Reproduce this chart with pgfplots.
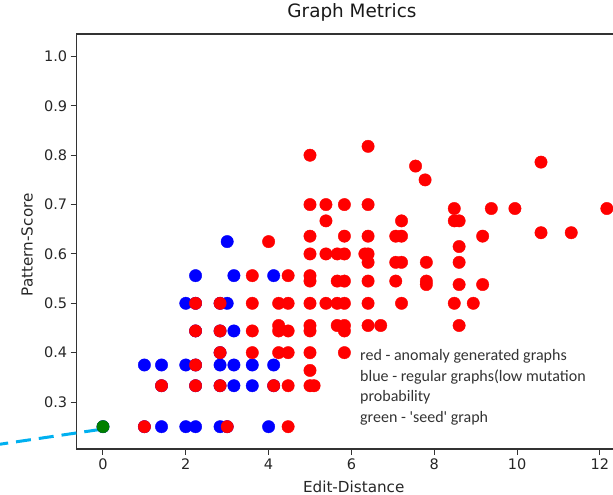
\documentclass[border=0pt]{standalone}
\usepackage{fontspec}
\setmainfont{DejaVu Sans}
\newfontfamily\notefont{Carlito}[Ligatures=TeXOff]
\usepackage{pgfplots}
\pgfplotsset{compat=1.18}

\definecolor{mplgreen}{RGB}{0,128,0}
\definecolor{callout}{RGB}{0,176,240}

\begin{document}
\begin{tikzpicture}
\useasboundingbox (-76.7pt,-46pt) rectangle (536.3pt,449pt);
\begin{axis}[
    scale only axis,
    width=538.3pt, height=415pt,
    xmin=-0.635, xmax=12.367,
    ymin=0.2048, ymax=1.0456,
    xtick={0,2,4,6,8,10,12},
    ytick={0.3,0.4,0.5,0.6,0.7,0.8,0.9,1.0},
    yticklabel style={/pgf/number format/.cd, fixed, fixed zerofill, precision=1},
    /pgf/number format/assume math mode=true,
    tick pos=left,
    tick align=outside,
    major tick length=6pt,
    tick style={black!80, line width=1pt},
    axis line style={black!80, line width=1.2pt},
    tick label style={font=\fontsize{14.5}{17}\selectfont, text=black!85},
    label style={font=\fontsize{15.2}{18}\selectfont, text=black!85},
    title={Graph Metrics},
    title style={at={(axis description cs:0.5114,1.0386)}, anchor=center,
        font=\fontsize{18.4}{22}\selectfont, text=black!90},
    xlabel={Edit-Distance},
    xlabel style={at={(axis description cs:0.5146,-0.0916)}, anchor=center},
    ylabel={Pattern-Score},
    ylabel style={at={(axis description cs:-0.0923,0.492)}, anchor=center},
    clip=false,
]

% callout line drawn over the screenshot
\draw[callout, line width=3pt, dash pattern=on 15pt off 8pt]
    (axis cs:-2.65,0.2125) -- (axis cs:-0.1,0.244);

% regular graphs (blue), also the ones hidden under red
\addplot[only marks, mark=*, mark size=6.2pt, color=blue] coordinates {
    (3.0,0.625)
    (2.236,0.556) (3.162,0.556) (4.123,0.556)
    (2.0,0.5) (3.0,0.5) (2.236,0.5) (2.828,0.5)
    (3.162,0.444) (2.236,0.444) (2.828,0.444)
    (2.828,0.4)
    (1.0,0.375) (1.414,0.375) (2.0,0.375) (2.236,0.375) (2.828,0.375)
    (3.162,0.375) (3.606,0.375) (4.123,0.375)
    (1.414,0.333) (2.236,0.333) (2.828,0.333) (3.162,0.333) (3.606,0.333) (4.123,0.333)
    (0,0.25) (1.0,0.25) (1.414,0.25) (2.0,0.25) (2.236,0.25) (2.828,0.25) (3.0,0.25) (4.0,0.25)
};

% anomaly generated graphs (red)
\addplot[only marks, mark=*, mark size=6.2pt, color=red] coordinates {
    (6.403,0.818) (5.0,0.8) (10.58,0.786) (7.55,0.778) (7.78,0.75)
    (5.0,0.7) (5.385,0.7) (5.831,0.7) (6.403,0.7)
    (8.485,0.692) (9.38,0.692) (9.95,0.692) (12.17,0.692)
    (5.385,0.667) (7.211,0.667) (8.485,0.667) (8.602,0.667)
    (10.58,0.643) (11.31,0.643)
    (5.0,0.636) (5.831,0.636) (6.403,0.636) (7.071,0.636) (7.211,0.636) (9.17,0.636)
    (4.0,0.625) (8.602,0.615)
    (5.0,0.6) (5.385,0.6) (5.657,0.6) (5.831,0.6) (6.325,0.6) (6.403,0.6)
    (6.403,0.583) (7.071,0.583) (7.211,0.583) (7.81,0.583) (8.602,0.583)
    (3.606,0.556) (4.472,0.556) (5.0,0.556)
    (5.0,0.545) (5.657,0.545) (5.831,0.545) (6.403,0.545) (7.071,0.545) (7.81,0.545)
    (7.81,0.538) (8.602,0.538) (9.17,0.538)
    (2.236,0.5) (2.828,0.5) (3.606,0.5) (4.243,0.5) (4.472,0.5) (5.0,0.5) (5.385,0.5)
    (5.657,0.5) (5.831,0.5) (6.403,0.5) (7.211,0.5) (8.485,0.5) (8.944,0.5)
    (4.243,0.455) (5.0,0.455) (5.657,0.455) (5.831,0.455) (6.403,0.455) (6.708,0.455) (8.602,0.455)
    (2.236,0.444) (2.828,0.444) (3.606,0.444) (4.243,0.444) (4.472,0.444) (5.0,0.444) (5.831,0.444)
    (2.828,0.4) (3.606,0.4) (4.243,0.4) (4.472,0.4) (5.0,0.4) (5.831,0.4)
    (2.236,0.375) (5.0,0.364)
    (1.414,0.333) (2.236,0.333) (2.828,0.333) (4.123,0.333) (4.472,0.333) (5.0,0.333) (5.099,0.333)
    (1.0,0.25) (3.0,0.25) (4.472,0.25)
};

% seed graph (green)
\addplot[only marks, mark=*, mark size=6.2pt, color=mplgreen] coordinates {(0,0.25)};

\begin{scope}[every node/.style={anchor=mid west, inner sep=0pt, text=black!80,
        font=\notefont\fontsize{16}{19}\selectfont}]
\node at (axis description cs:0.5263,0.2210) {red - anomaly generated graphs};
\node at (axis description cs:0.5263,0.1704) {blue - regular graphs(low mutation};
\node at (axis description cs:0.5263,0.1205) {probability};
\node at (axis description cs:0.5263,0.0699) {green - 'seed' graph};
\end{scope}
\end{axis}
\end{tikzpicture}
\end{document}
